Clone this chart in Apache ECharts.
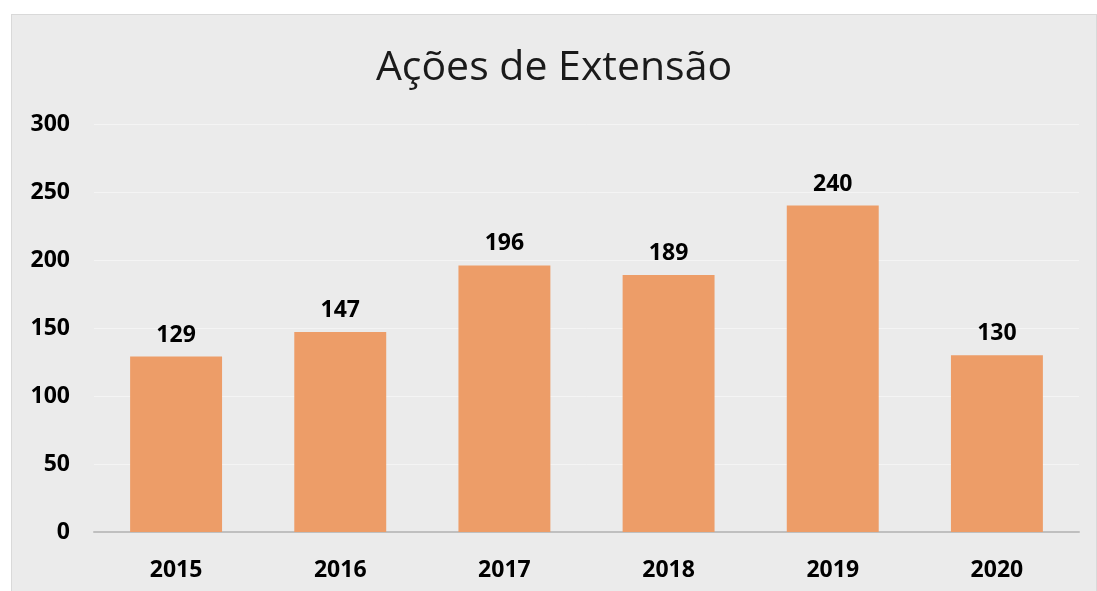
<!DOCTYPE html>
<html>
<head>
<meta charset="utf-8">
<script src="https://cdn.jsdelivr.net/npm/echarts@6/dist/echarts.min.js"></script>
<style>
  html, body { margin: 0; padding: 0; background: #ffffff; }
  #main {
    position: absolute;
    left: 11px;
    top: 14px;
    width: 1084px;
    height: 590px;
    background: #ebebeb;
    border: 1px solid #d9d9d9;
  }
</style>
</head>
<body>
<div id="main"></div>
<script>
// dados
const titulo = "Ações de Extensão";
const anos = ["2015", "2016", "2017", "2018", "2019", "2020"];
const acoes = [129, 147, 196, 189, 240, 130];

var chartDom = document.getElementById("main");
var myChart = echarts.init(chartDom);

var option = {
  backgroundColor: "#ebebeb",
  title: {
    text: titulo,
    left: "center",
    top: 28,
    textStyle: {
      fontFamily: "Open Sans",
      fontSize: 41,
      fontWeight: "normal",
      color: "#1a1a1a"
    }
  },
  grid: {
    left: 82,
    right: 17,
    top: 109,
    height: 408
  },
  xAxis: {
    type: "category",
    data: anos,
    axisTick: { show: false },
    axisLine: { lineStyle: { color: "#bfbfbf", width: 2 } },
    axisLabel: {
      margin: 27,
      color: "#000",
      fontFamily: "Open Sans",
      fontWeight: "bold",
      fontSize: 23
    }
  },
  yAxis: {
    type: "value",
    min: 0,
    max: 300,
    interval: 50,
    axisLine: { show: false },
    axisTick: { show: false },
    splitLine: { lineStyle: { color: "#f4f4f4", width: 1 } },
    axisLabel: {
      margin: 24,
      color: "#000",
      fontFamily: "Open Sans",
      fontWeight: "bold",
      fontSize: 23
    }
  },
  series: [
    {
      type: "bar",
      data: acoes,
      barWidth: "56%",
      itemStyle: { color: "#ed9d68" },
      label: {
        show: true,
        position: "top",
        distance: 10,
        color: "#000",
        fontFamily: "Open Sans",
        fontWeight: "bold",
        fontSize: 23
      }
    }
  ]
};
option && myChart.setOption(option);
</script>
</body>
</html>
